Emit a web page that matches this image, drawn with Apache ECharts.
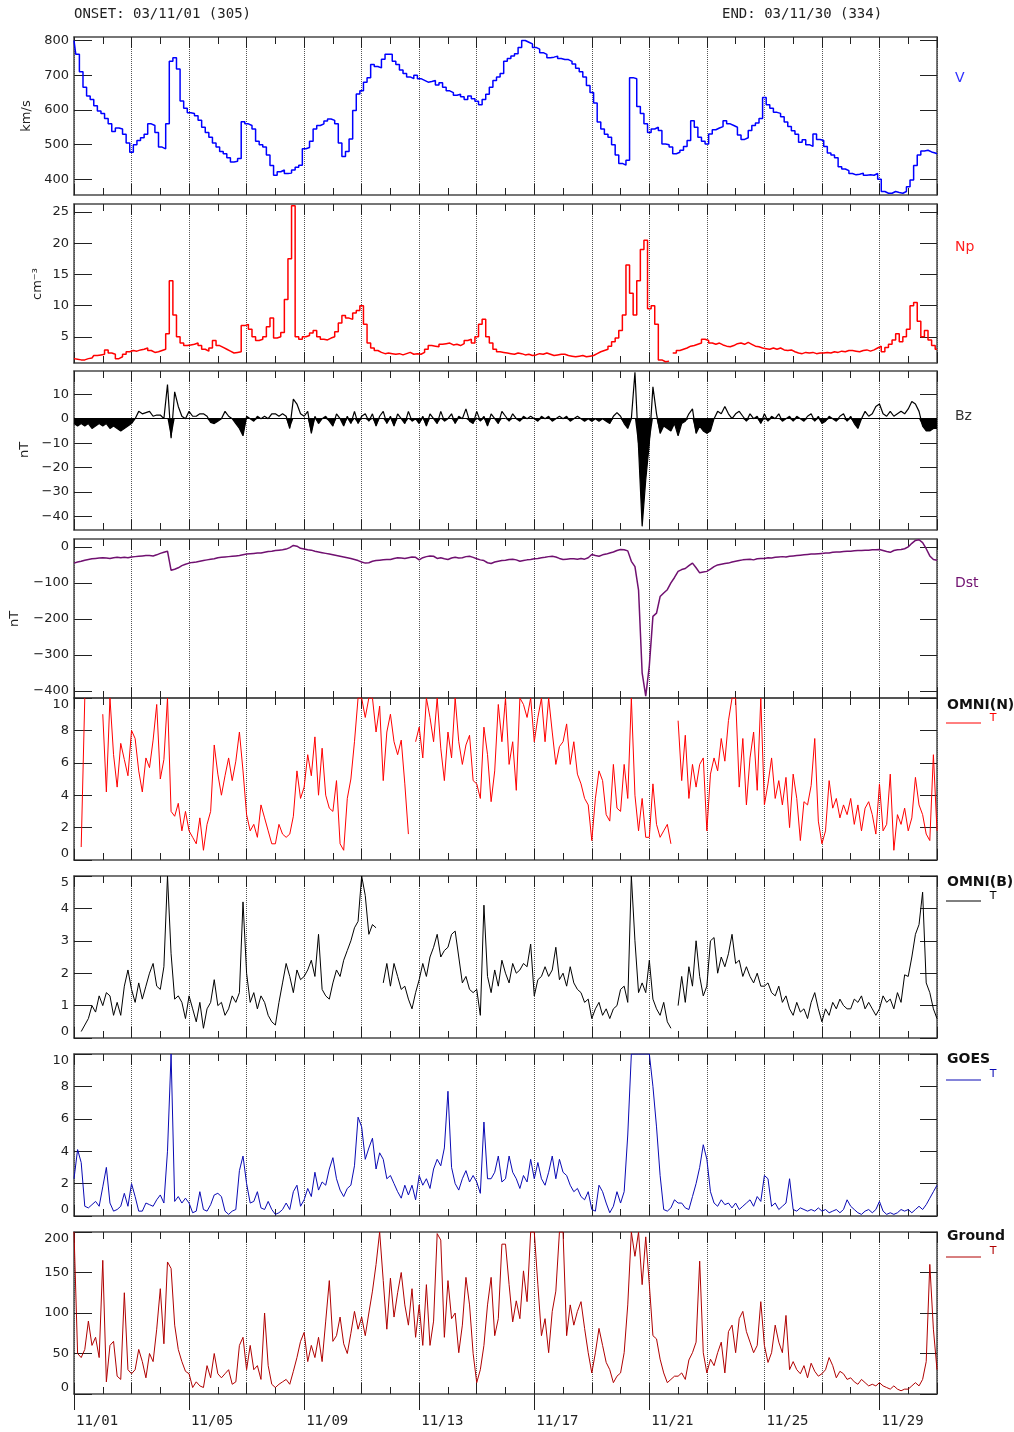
<!DOCTYPE html>
<html><head><meta charset="utf-8">
<script src="https://cdn.jsdelivr.net/npm/echarts@6/dist/echarts.min.js"></script>
<style>html,body{margin:0;padding:0;background:#fff}#c{width:1014px;height:1432px}</style>
</head><body><div id="c"></div>
<script>
// 3-hourly samples, 2003-11-01 00:00 UT .. 2003-12-01 00:00 UT (241 values per series)
const STEP_HOURS = 3;

const vData = [
800,760,710,665,640,630,612,597,
590,575,560,538,548,545,530,505,
478,500,512,520,530,560,555,535,
493,488,560,740,750,718,626,605,
592,590,583,570,550,535,521,505,
493,480,474,462,450,452,460,566,
560,555,545,510,500,493,470,440,
412,422,427,417,418,427,435,441,
488,492,510,545,555,560,568,574,
570,560,505,466,480,516,598,646,
655,680,693,731,725,721,746,760,
760,740,731,715,705,695,690,700,
690,685,680,682,685,672,678,665,
655,650,642,645,638,630,640,632,
625,615,630,645,665,685,695,705,
740,748,755,762,780,800,795,790,
780,775,765,760,750,752,755,748,
745,745,740,732,720,710,695,670,
650,620,565,545,530,521,500,470,
446,441,455,693,690,610,590,560,
535,545,550,541,502,500,493,474,
478,484,495,512,569,550,521,510,
502,531,543,548,552,569,560,555,
550,528,515,520,541,555,562,575,
636,615,605,593,590,580,565,552,
540,530,507,514,500,495,531,515,
512,495,476,470,462,436,430,425,
417,413,415,418,412,413,412,417,
400,365,360,360,365,362,360,365,
379,398,440,470,482,484,479,476,
474];

const npData = [
1.5,1.4,1.3,1.3,1.5,1.6,2.0,2.1,
2.2,2.9,2.4,2.2,1.5,1.8,2.2,2.6,
2.8,2.7,2.9,3.0,3.2,2.8,2.5,2.6,
2.8,3.0,5.5,14.0,8.5,5.0,4.0,3.6,
3.7,3.8,4.0,3.6,3.0,2.7,3.2,4.4,
3.6,3.3,3.0,2.7,2.4,2.5,2.6,6.8,
7.0,6.2,5.0,4.4,4.6,5.0,6.6,8.0,
4.8,5.0,5.7,11.0,17.5,26.0,5.0,4.6,
5.0,5.2,5.6,6.0,5.0,4.6,4.5,4.8,
5.0,5.8,7.2,8.4,8.0,7.8,8.8,9.2,
10.0,7.0,4.0,3.2,2.8,2.5,2.3,2.4,
2.3,2.2,2.3,2.1,2.3,2.5,2.2,2.3,
2.2,2.5,3.0,3.6,3.5,3.4,3.8,3.9,
4.0,3.7,3.8,3.6,3.9,4.4,4.6,4.0,
5.0,7.0,7.8,5.0,4.0,3.0,2.6,2.5,
2.4,2.3,2.2,2.4,2.3,2.1,2.2,2.0,
2.1,2.3,2.2,2.4,2.2,2.0,2.1,2.2,
2.2,2.0,1.9,1.8,1.9,2.0,1.8,1.9,
2.0,2.3,2.6,2.8,3.0,3.5,4.2,4.8,
6.0,8.5,16.5,12.0,8.5,14.0,19.0,20.5,
9.5,10.0,7.0,1.3,1.0,1.1,null,2.4,
2.8,3.0,3.2,3.5,3.6,3.8,4.0,4.6,
4.4,4.0,3.8,4.0,3.7,3.5,3.4,3.6,
3.9,4.0,3.8,4.1,3.8,3.5,3.4,3.2,
3.1,3.0,3.2,3.0,3.2,2.9,2.8,2.9,
2.6,2.4,2.3,2.5,2.4,2.5,2.3,2.4,
2.4,2.5,2.4,2.6,2.5,2.7,2.6,2.8,
2.8,2.7,2.6,2.8,2.9,2.7,2.9,3.2,
3.5,2.6,3.3,3.8,4.5,5.5,4.2,5.0,
6.2,10.0,10.5,7.5,5.0,6.0,4.5,3.6,
3.0];

const bzData = [
-2,-3,-2,-3,-2,-4,-3,-2,
-3,-2,-4,-3,-4,-5,-4,-3,
-2,0,3,2,2.5,3,1,1.5,
1.5,0,14,-8,11,5,1,0,
3,1,1,2,2,1,-1.5,-2,
-1,0,3,1,0,-2,-4,-7,
1,0,-1,1,0,1,0,2,
2,1,2,1,-4,8,6,2,
1,3,-6,1,-2,0,1,-1,
-3,2,0,-3,1,-2,3,-2,
1,2,-1,2,-3,1,3,-2,
1,-3,2,0,-2,3,-1,0,
-2,1,-3,2,0,-2,3,-1,
0,2,-2,1,0,4,-1,-2,
3,-1,1,-3,2,0,-2,3,
1,-1,2,0,-1,1,0,1,
0,-1,1,0,1,-1,0,1,
0,1,-1,0,1,0,-1,0,
-1,0,-1,0,-1,-2,1,2.5,
1,-2,-4,0,19,-12,-44,-25,
-10,13,2,-6,-3,-4,-5,-2,
-7,-2,-1,2,4,-6,-3,-5,
-6,-5,0,3,2,5,2,0,
2,3,1,-1,2,0,1,-2,
2,-1,1,0,2,-1,0,1,
-1,1,0,-1,1,2,-1,1,
-2,-1,1,0,-1,1,2,-1,
1,-2,-4,0,3,1,2,5,
6,2,1,3,1,2,3,2,
4,7,6,3,-3,-5,-5,-4,
-4];

const dstData = [
-45,-42,-40,-37,-35,-33,-32,-31,
-30,-31,-32,-30,-29,-30,-29,-30,
-28,-27,-26,-25,-24,-24,-25,-22,
-18,-15,-12,-65,-62,-58,-52,-48,
-45,-43,-42,-40,-38,-36,-34,-33,
-30,-29,-28,-27,-26,-25,-24,-22,
-20,-19,-18,-17,-17,-15,-13,-12,
-10,-9,-8,-6,-2,4,2,-4,
-6,-8,-9,-12,-14,-16,-18,-20,
-22,-24,-26,-28,-30,-32,-35,-38,
-42,-45,-44,-40,-38,-37,-36,-35,
-35,-32,-30,-31,-32,-30,-28,-29,
-36,-30,-27,-25,-26,-32,-30,-33,
-35,-31,-29,-31,-30,-27,-26,-29,
-33,-36,-38,-44,-46,-42,-40,-38,
-37,-35,-34,-36,-40,-38,-36,-35,
-33,-32,-30,-29,-27,-26,-28,-32,
-35,-34,-33,-33,-34,-32,-34,-30,
-21,-24,-26,-22,-20,-17,-14,-10,
-7,-8,-11,-40,-55,-120,-350,-415,
-330,-193,-184,-138,-128,-119,-100,-85,
-68,-63,-60,-52,-45,-58,-72,-70,
-68,-62,-55,-50,-48,-46,-45,-42,
-40,-38,-36,-35,-34,-36,-33,-32,
-32,-30,-31,-29,-28,-27,-28,-26,
-25,-24,-23,-22,-21,-20,-20,-19,
-18,-17,-17,-15,-14,-14,-13,-12,
-12,-11,-10,-10,-9,-9,-8,-8,
-7,-10,-13,-15,-10,-8,-7,-5,
0,10,18,20,12,-5,-25,-35,
-37];

const omniNData = [
null,null,0.8,10,null,null,null,null,
9,4.2,10,6.5,4.5,7.2,6.2,5.2,
8,7.5,5.5,4.2,6.3,5.7,7.4,9.6,
5,6.2,10,3,2.7,3.5,1.8,3.0,
1.8,1.4,1.0,2.6,0.6,2.2,3.0,7.1,
5.3,4.0,5.2,6.3,4.9,6.1,7.9,5.5,
2.8,1.8,2.2,1.4,3.4,2.6,1.8,1.0,
1.0,2.2,1.6,1.4,1.6,2.7,5.5,3.8,
4.5,6.5,5.2,7.6,4.0,6.9,4.0,3.2,
3.0,4.9,1.0,0.6,3.8,5.0,7.3,10,
10,8.8,10,10,7.9,9.5,4.9,7.9,
9.0,7.3,6.5,7.4,4.7,1.6,null,7.3,
8.2,6.3,10,8.8,7.3,10,6.9,4.9,
7.9,6.3,10,7.3,5.9,7.1,7.7,4.9,
4.7,3.8,8.2,6.5,3.6,5.5,9.6,7.3,
10,5.9,7.3,4.3,10,9.6,8.8,10,
7.3,8.8,10,7.3,10,7.9,5.9,7.0,
7.3,8.4,5.9,7.3,5.3,4.7,3.8,3.4,
1.2,3.8,5.5,4.9,2.8,2.4,5.9,3.2,
3.0,5.9,3.8,10,4.0,1.8,3.8,1.4,
1.4,4.7,2.2,1.4,1.8,2.2,1.0,null,
8.6,4.9,7.7,3.8,5.9,4.5,5.9,6.3,
1.8,5.3,6.3,5.5,7.5,6.1,8.6,10,
10,4.5,7.5,3.4,6.3,7.9,4.3,10,
3.4,4.7,6.3,3.8,4.9,3.4,5.1,2.0,
5.3,3.8,1.2,3.6,3.4,4.6,7.5,2.4,
1.0,1.8,4.9,3.2,3.8,2.6,3.4,2.8,
3.8,2.2,3.4,1.8,3.2,3.6,2.8,1.6,
4.7,1.8,2.2,5.3,0.6,2.8,2.2,3.2,
1.8,2.6,5.1,3.4,2.8,1.6,1.2,6.5,
1.8];

const omniBData = [
null,null,0.2,0.4,0.6,1.0,0.8,1.3,
1.0,1.4,1.3,0.7,1.1,0.7,1.6,2.1,
1.5,1.1,1.7,1.2,1.6,2.0,2.3,1.6,
1.5,2.2,5.0,2.6,1.2,1.3,1.1,0.6,
1.3,0.9,0.5,1.1,0.3,0.9,1.1,1.8,
1.0,1.1,0.7,0.9,1.3,1.1,1.4,4.2,
2.0,1.1,1.4,0.9,1.3,1.1,0.7,0.5,
0.4,1.1,1.7,2.3,1.9,1.4,2.1,1.8,
1.9,2.1,2.4,1.9,3.2,1.5,1.3,1.2,
1.7,2.1,1.9,2.4,2.7,3.0,3.4,3.6,
5.0,4.4,3.2,3.5,3.4,null,1.7,2.3,
1.6,2.3,1.9,1.5,1.6,1.2,0.9,1.4,
1.8,2.3,1.9,2.5,2.8,3.2,2.5,2.7,
2.8,3.2,3.3,2.5,1.7,1.9,1.5,1.4,
1.5,0.7,4.1,1.9,1.4,2.1,1.6,2.4,
2.0,1.7,2.3,2.0,2.1,2.3,2.2,2.9,
1.3,1.8,1.9,2.2,1.9,2.1,2.8,1.8,
2.0,1.6,2.2,1.7,1.5,1.4,1.1,1.2,
0.6,0.9,1.1,0.7,0.9,0.6,0.9,1.0,
1.5,1.6,1.1,5.0,3.0,1.4,1.7,1.4,
2.4,1.2,0.9,0.7,1.1,0.5,0.3,null,
1.0,1.9,1.1,2.2,1.6,3.0,1.9,1.3,
1.6,3.0,3.1,2.0,2.5,2.2,2.6,3.2,
2.3,2.4,1.9,2.2,1.9,1.7,2.0,1.6,
1.6,1.7,1.4,1.3,1.6,1.1,1.3,0.9,
0.7,1.1,0.8,0.9,0.6,1.1,1.4,0.9,
0.5,0.9,0.7,1.1,0.9,1.2,1.0,0.9,
0.9,1.2,1.1,1.3,0.9,1.1,0.9,0.7,
0.9,1.3,1.1,1.2,0.9,1.4,1.1,1.95,
1.9,2.5,3.2,3.5,4.5,1.7,1.4,0.9,
0.6];

const goesData = [
2.3,4.1,3.3,0.6,0.5,0.7,0.9,0.6,
1.8,3.0,0.8,0.3,0.4,0.6,1.4,0.6,
2.0,1.2,0.3,0.3,0.8,0.7,0.6,1.0,
1.3,0.8,4.0,10,0.9,1.2,0.8,1.1,
0.8,0.2,0.3,1.5,0.4,0.3,0.7,1.3,
1.4,1.2,0.3,0.1,0.3,0.4,2.8,3.7,
2.0,0.8,0.9,1.5,0.5,0.4,0.9,0.4,
0.1,0.2,0.4,0.8,0.4,1.5,1.9,0.6,
1.0,1.7,1.2,2.7,1.6,2.1,1.9,2.9,
3.6,2.3,1.6,1.2,1.7,1.9,3.1,6.1,
5.5,3.5,4.2,4.8,2.9,3.9,3.5,2.3,
2.5,2.0,1.5,1.1,1.9,1.3,1.9,1.0,
2.5,1.9,2.3,1.7,2.9,3.5,3.1,4.2,
7.7,3.0,2.0,1.6,2.3,2.8,2.1,2.5,
2.1,1.4,5.8,2.3,2.3,2.7,3.7,2.1,
2.3,3.7,2.7,2.3,1.7,2.5,2.1,3.5,
2.3,3.3,2.3,1.9,2.7,3.7,2.3,3.5,
2.7,2.5,1.9,1.5,1.7,1.2,1.0,1.5,
0.4,0.3,1.9,1.5,0.8,0.2,0.6,1.5,
0.8,1.5,5.0,10,10,10,10,10,
10,8.0,5.5,2.5,0.4,0.3,0.5,1.0,
0.8,0.8,0.5,0.4,1.2,2.0,3.0,4.4,
3.5,1.5,0.8,0.6,1.0,0.7,0.8,0.5,
0.8,0.4,0.6,0.8,1.0,0.6,1.2,0.9,
2.5,2.3,0.6,0.8,0.4,0.6,0.8,2.3,
0.4,0.3,0.5,0.4,0.3,0.4,0.3,0.5,
0.3,0.4,0.2,0.3,0.4,0.2,0.4,1.0,
0.6,0.4,0.2,0.1,0.3,0.4,0.2,0.4,
0.9,0.3,0.1,0.2,0.1,0.2,0.4,0.3,
0.4,0.2,0.4,0.6,0.4,0.7,1.1,1.5,
1.9];

const groundData = [
200,50,45,55,90,60,70,45,
165,15,60,65,22,18,125,30,
25,30,55,40,20,50,40,80,
130,62,163,155,85,55,40,28,
25,8,15,10,8,35,20,50,
25,20,25,30,12,15,60,70,
30,60,30,35,18,100,35,12,
8,12,15,18,12,28,45,65,
76,40,60,45,70,40,90,140,
65,72,95,62,50,75,102,80,
95,72,100,127,160,200,140,80,
143,95,125,150,110,85,130,70,
110,60,135,60,90,198,190,70,
140,93,100,51,85,144,110,50,
14,30,60,110,144,72,93,185,
185,135,89,115,93,152,114,200,
200,135,72,93,51,102,127,200,
200,72,110,85,102,114,81,51,
26,51,81,60,39,30,14,22,
26,51,110,200,170,200,135,194,
135,72,68,43,26,14,18,22,
22,26,18,42,51,64,164,51,
26,43,35,51,64,26,77,85,
51,93,102,77,64,51,60,114,
60,39,51,85,64,51,97,30,
40,30,25,35,20,38,28,22,
25,30,45,35,20,28,25,18,
20,15,12,18,14,10,12,10,
14,10,8,6,10,6,4,6,
6,10,14,10,18,40,160,80,
30];

// axis tick values
const vTicks = [400, 500, 600, 700, 800];
const npTicks = [5, 10, 15, 20, 25];
const bzTicks = [-40, -30, -20, -10, 0, 10];
const dstTicks = [-400, -300, -200, -100, 0];
const omniNTicks = [0, 2, 4, 6, 8, 10];
const omniBTicks = [0, 1, 2, 3, 4, 5];
const goesTicks = [0, 2, 4, 6, 8, 10];
const groundTicks = [0, 50, 100, 150, 200];

const onsetText = 'ONSET: 03/11/01 (305)';
const endText = 'END: 03/11/30 (334)';

const TOTAL_HOURS = 720;
const LEFT = 74, WIDTH = 863;
const FONT = 'DejaVu Sans, sans-serif';
const MONO = 'DejaVu Sans Mono, monospace';

const panels = [
  {name:'V', data:vData, color:'#0000ff', min:355, max:810, ticks:vTicks, top:37, height:158, lw:1.5, step:'middle'},
  {name:'Np', data:npData, color:'#ff0000', min:0.8, max:26.3, ticks:npTicks, top:204, height:159, lw:1.5, step:'middle'},
  {name:'Bz', data:bzData, color:'#000000', min:-45.5, max:19.5, ticks:bzTicks, top:371, height:159, lw:1.2, step:false},
  {name:'Dst', data:dstData, color:'#701070', min:-420, max:22, ticks:dstTicks, top:539, height:159, lw:1.5, step:false},
  {name:'OMNI(N)', data:omniNData, color:'#ff0000', min:0, max:10, ticks:omniNTicks, top:698, height:162, lw:1, edge:true, step:false},
  {name:'OMNI(B)', data:omniBData, color:'#000000', min:0, max:5, ticks:omniBTicks, top:876, height:162, lw:1, edge:true, step:false},
  {name:'GOES', data:goesData, color:'#0a0ab4', min:0, max:10, ticks:goesTicks, top:1054, height:162, lw:1, edge:true, step:false},
  {name:'Ground', data:groundData, color:'#b00000', min:0, max:200, ticks:groundTicks, top:1232, height:162, lw:1, edge:true, step:false}
];

const fmtNum = v => v < 0 ? '\u2212' + Math.abs(v) : String(v);
const toPairs = arr => arr.map((v, i) => [i * STEP_HOURS, v]);

const grid = [], xAxis = [], yAxis = [], series = [];
const frame = {color:'#4a4a4a', width:1.5};

panels.forEach((p, i) => {
  grid.push({left:LEFT, width:WIDTH, top:p.top, height:p.height});
  const xBase = {
    gridIndex:i, type:'value', min:0, max:TOTAL_HOURS, interval:48,
    axisLine:{show:true, onZero:false, lineStyle:frame},
    axisTick:{show:true, inside:true, length:11, lineStyle:{color:'#222'}},
    minorTick:{show:true, splitNumber:2, length:7, lineStyle:{color:'#222'}},
    axisLabel:{show:false}
  };
  xAxis.push(Object.assign({}, xBase, {position:'bottom',
    splitLine:{show:true, lineStyle:{type:'dotted', color:'#555', width:1}}}));
  xAxis.push(Object.assign({}, xBase, {position:'top', splitLine:{show:false}}));
  const yBase = {
    gridIndex:i, type:'value', min:p.min, max:p.max,
    axisLine:{show:true, onZero:false, lineStyle:frame},
    axisTick:{show:true, inside:true, length:18, customValues:p.ticks, lineStyle:{color:'#222'}},
    splitLine:{show:false}
  };
  yAxis.push(Object.assign({}, yBase, {position:'left',
    axisLabel:{show:true, customValues:p.ticks, formatter:fmtNum, margin:5,
      fontFamily:FONT, fontSize:13, color:'#222',
      verticalAlignMinLabel: p.edge ? 'bottom' : 'middle',
      verticalAlignMaxLabel: p.edge ? 'top' : 'middle'}}));
  yAxis.push(Object.assign({}, yBase, {position:'right',
    axisTick:{show:true, inside:true, length:17, customValues:p.ticks, lineStyle:{color:'#222'}},
    axisLabel:{show:false}}));
  const xi = xAxis.length - 2, yi = yAxis.length - 2;
  const s = {
    type:'line', xAxisIndex:xi, yAxisIndex:yi, data:toPairs(p.data), step:p.step,
    showSymbol:false, symbol:'none', connectNulls:false, clip:true,
    lineStyle:{color:p.color, width:p.lw}, itemStyle:{color:p.color},
    animation:false, z:3
  };
  if (p.name === 'Bz') {
    series.push({
      type:'line', xAxisIndex:xi, yAxisIndex:yi,
      data:p.data.map((v, k) => [k * STEP_HOURS, Math.min(v, 0)]),
      showSymbol:false, symbol:'none', lineStyle:{width:0, color:'#000'},
      areaStyle:{color:'#000', opacity:1, origin:0}, animation:false, z:2
    });
    s.markLine = {silent:true, symbol:['none','none'], label:{show:false},
      lineStyle:{color:'#000', type:'solid', width:1}, data:[{yAxis:0}], animation:false};
  }
  series.push(s);
});

// date labels under the last panel
const last = panels.length - 1;
xAxis.push({
  gridIndex:last, type:'value', min:0, max:TOTAL_HOURS, interval:96, position:'bottom',
  axisLine:{show:false},
  axisTick:{show:true, inside:false, length:16, lineStyle:{color:'#222'}},
  splitLine:{show:false},
  axisLabel:{show:true, showMaxLabel:false, align:'left', margin:20, padding:[0,0,0,2],
    fontFamily:MONO, fontSize:14, color:'#222',
    formatter: h => { const d = 1 + Math.round(h / 24); return '11/' + (d < 10 ? '0' + d : d); }}
});

// text annotations
const graphic = [
  {type:'text', left:74, top:7, style:{text:onsetText, font:'14px ' + MONO, fill:'#222'}},
  {type:'text', left:722, top:7, style:{text:endText, font:'14px ' + MONO, fill:'#222'}}
];
const yNames = [
  {t:'km/s', x:27, y:116}, {t:'cm\u207B\u00B3', x:38, y:284},
  {t:'nT', x:25, y:450}, {t:'nT', x:15, y:619}
];
yNames.forEach(n => graphic.push({type:'text', x:n.x, y:n.y, rotation:Math.PI/2,
  style:{text:n.t, font:'13px ' + FONT, fill:'#222', textAlign:'center', textVerticalAlign:'middle'}}));
const sideLabels = [
  {t:'V', y:78, c:'#3030ff'}, {t:'Np', y:247, c:'#ff2020'},
  {t:'Bz', y:416, c:'#333'}, {t:'Dst', y:583, c:'#701070'}
];
sideLabels.forEach(l => graphic.push({type:'text', x:955, y:l.y,
  style:{text:l.t, font:'14px ' + FONT, fill:l.c, textVerticalAlign:'middle'}}));
const legendRows = [
  {i:4, ty:705, ly:723, Ty:718}, {i:5, ty:882, ly:901, Ty:896},
  {i:6, ty:1059, ly:1080, Ty:1074}, {i:7, ty:1236, ly:1257, Ty:1251}
];
legendRows.forEach(r => {
  const p = panels[r.i];
  graphic.push({type:'text', x:947, y:r.ty, style:{text:p.name, font:'bold 14px ' + FONT, fill:'#111', textVerticalAlign:'middle'}});
  graphic.push({type:'line', shape:{x1:946, y1:r.ly, x2:981, y2:r.ly}, style:{stroke:p.color, lineWidth:1}});
  graphic.push({type:'text', x:993, y:r.Ty, style:{text:'T', font:'11px ' + FONT, fill:p.color, textAlign:'center', textVerticalAlign:'middle'}});
});

const chart = echarts.init(document.getElementById('c'), null, {renderer:'canvas'});
chart.setOption({backgroundColor:'#fff', animation:false, grid, xAxis, yAxis, series, graphic});
</script></body></html>
